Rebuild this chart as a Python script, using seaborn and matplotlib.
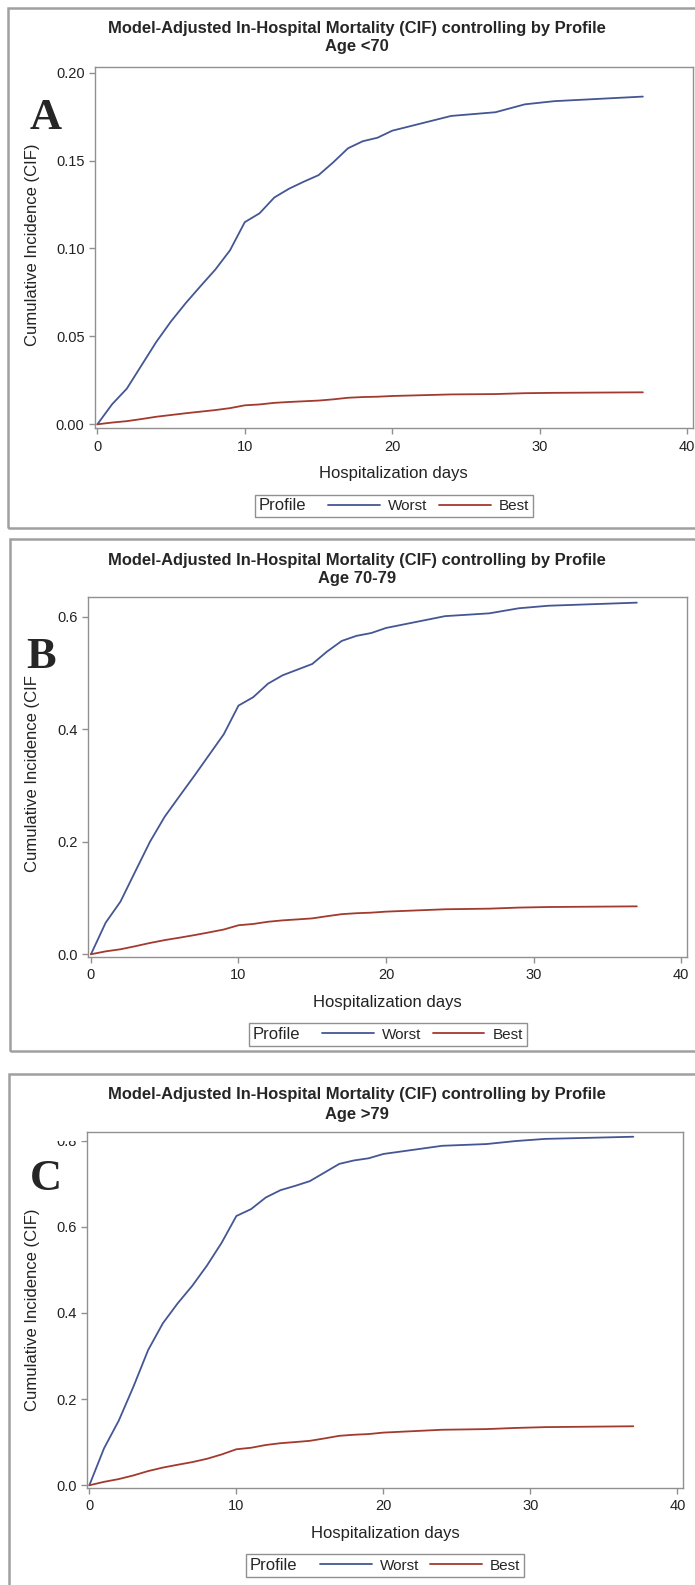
import pandas as pd
import seaborn as sns
import matplotlib.pyplot as plt
from matplotlib.lines import Line2D
from matplotlib.patches import Rectangle
from matplotlib.offsetbox import HPacker

# event days shared by all curves
days = [0, 1, 2, 3, 4, 5, 6, 7, 8, 9, 10, 11, 12, 13, 14, 15, 16, 17, 18, 19, 20,
        24, 27, 29, 31, 37]

worst_a = [0, .0114, .0203, .0336, .0469, .0586, .069, .0786, .088, .099, .115, .120, .129,
           .134, .138, .1417, .149, .157, .161, .163, .167, .1754, .1775, .182, .1838, .1864]
best_a = [0, .0010, .0018, .0030, .0043, .0053, .0063, .0072, .0081, .0092, .0108, .0113,
          .0122, .0127, .0131, .0135, .0142, .0151, .0155, .0157, .0161, .0170, .0172, .0177,
          .0179, .0182]

worst_b = [0, .0563, .0936, .147, .200, .2446, .281, .317, .354, .391, .442, .457, .481, .496,
           .506, .516, .538, .557, .566, .571, .580, .601, .606, .615, .6195, .625]
best_b = [0, .0052, .0089, .0143, .0201, .0252, .0295, .0340, .0389, .0440, .0516, .0539,
          .0578, .0603, .0620, .0638, .0677, .0713, .0730, .0740, .0758, .0800, .0811, .0830,
          .0840, .0852]

worst_c = [0, .0859, .150, .229, .314, .376, .422, .463, .51, .563, .625, .641, .668, .685,
           .695, .706, .726, .746, .754, .759, .769, .788, .792, .799, .804, .809]
best_c = [0, .0080, .0144, .0229, .0330, .0411, .0476, .0538, .0615, .0716, .0836, .0871,
          .0935, .0977, .1003, .1032, .1088, .1148, .1173, .1189, .1223, .1289, .1304, .1331,
          .1350, .1370]

title = "Model-Adjusted In-Hospital Mortality (CIF) controlling by Profile"
subtitles = ["Age <70", "Age 70-79", "Age >79"]
letters = ["A", "B", "C"]
ylabels = ["Cumulative Incidence (CIF)", "Cumulative Incidence (CIF", "Cumulative Incidence (CIF)"]
yticks = [[0, .05, .10, .15, .20], [0, .2, .4, .6], [0, .2, .4, .6, .8]]
yfmt = ["{:.2f}", "{:.1f}", "{:.1f}"]
xticks = [0, 10, 20, 30, 40]
profiles = ["Worst", "Best"]
colors = {"Worst": "#445694", "Best": "#A23A2E"}

sns.set_style("white")
plt.rcParams["font.family"] = ["Liberation Sans", "DejaVu Sans"]

W, H = 695, 1585
fig = plt.figure(figsize=(W / 100, H / 100), dpi=100)

# layout in pixels: box (l, t, r, b), axes (l, t, r, b), ylim, title y, letter pos
panels = [
    dict(box=(8, 8, 720, 528), ax=(94.7, 66.7, 693, 428), ylim=(-0.0021, 0.2034),
         ty=(28, 46.5), let=(46, 118), yl=245),
    dict(box=(10, 539, 720, 1051), ax=(88.3, 597.3, 687, 956.7), ylim=(-0.0043, 0.6345),
         ty=(560, 579), let=(41, 657), yl=774),
    dict(box=(9, 1074, 720, 1620), ax=(86.7, 1132, 683.3, 1487.7), ylim=(-0.0056, 0.820),
         ty=(1095, 1114), let=(46, 1179), yl=1310),
]
series = [(worst_a, best_a), (worst_b, best_b), (worst_c, best_c)]

for i, p in enumerate(panels):
    bl, bt, br, bb = p["box"]
    fig.add_artist(Rectangle((bl / W, 1 - bb / H), (br - bl) / W, (bb - bt) / H,
                             transform=fig.transFigure, fill=False,
                             edgecolor="#a0a0a0", linewidth=1.8))

    l, t, r, b = p["ax"]
    ax = fig.add_axes([l / W, 1 - b / H, (r - l) / W, (b - t) / H])

    worst, best = series[i]
    df = pd.DataFrame({
        "day": days + days,
        "cif": worst + best,
        "Profile": ["Worst"] * len(days) + ["Best"] * len(days),
    })
    sns.lineplot(data=df, x="day", y="cif", hue="Profile", hue_order=profiles,
                 palette=colors, estimator=None, linewidth=1.3, legend=False, ax=ax)

    ax.set_xlim(-0.18, 40.4)
    ax.set_ylim(*p["ylim"])
    ax.set_xticks(xticks)
    ax.set_xticklabels([str(x) for x in xticks])
    ax.set_yticks(yticks[i])
    ax.set_yticklabels([yfmt[i].format(v) for v in yticks[i]])
    ax.tick_params(bottom=True, left=True, direction="out", length=4.3, width=1,
                   color="#909090", labelsize=10.5, labelcolor="#222222", pad=3)
    ax.tick_params(axis="x", pad=4)
    for s in ax.spines.values():
        s.set_color("#909090")
        s.set_linewidth(1)

    ax.set_xlabel("Hospitalization days", fontsize=12, color="#222222")
    ax.xaxis.set_label_coords((l + r) / 2 / W, 1 - (b + 38) / H, transform=fig.transFigure)
    ax.set_ylabel(ylabels[i], fontsize=12, color="#222222")
    ax.yaxis.set_label_coords(40 / W, 1 - p["yl"] / H, transform=fig.transFigure)

    fig.text(357 / W, 1 - p["ty"][0] / H, title, ha="center", va="center",
             fontsize=11.9, fontweight="bold")
    fig.text(357 / W, 1 - p["ty"][1] / H, subtitles[i], ha="center", va="center",
             fontsize=11.9, fontweight="bold")
    fig.text(p["let"][0] / W, 1 - p["let"][1] / H, letters[i], ha="center", va="center",
             fontsize=32, fontweight="bold", family="Liberation Serif")

    handles = [Line2D([], [], color=colors[k], linewidth=1.3) for k in profiles]
    leg = ax.legend(handles, profiles, title="Profile", ncol=2, loc="center",
                    bbox_to_anchor=((l + r) / 2 / W, 1 - (b + 78) / H),
                    bbox_transform=fig.transFigure, fontsize=11, title_fontsize=12,
                    frameon=True, fancybox=False, edgecolor="#909090", framealpha=1,
                    handlelength=3.4, handletextpad=0.52, columnspacing=0.72, borderpad=0.25,
                    borderaxespad=0)
    leg.get_frame().set_linewidth(1)
    # SAS puts the legend title to the left of the entries
    leg._legend_box = HPacker(pad=0.25 * 11, sep=16, align="center",
                              children=[leg._legend_title_box, leg._legend_handle_box])
    leg._legend_box.set_figure(fig)
    leg._legend_box.axes = ax
    leg._set_loc(leg._loc)

# the top of the 0.8 label is hidden in the original panel C
fig.add_artist(Rectangle((50 / W, 1 - 1140.5 / H), 35 / W, 9.5 / H, transform=fig.transFigure,
                         facecolor="white", edgecolor="none", zorder=10))

fig.savefig("out.png", dpi=100)
